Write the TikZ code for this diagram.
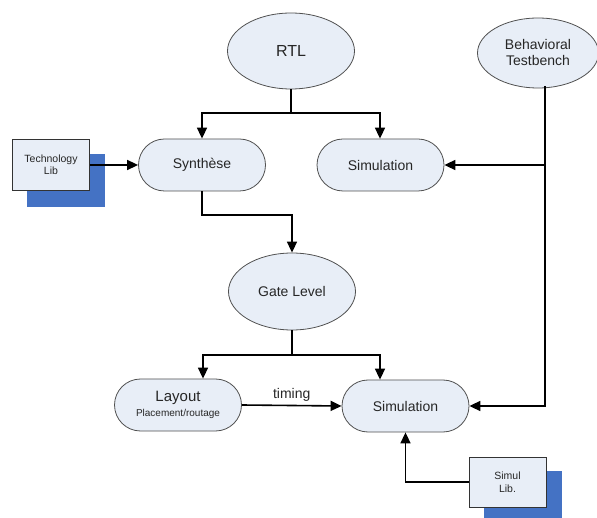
\documentclass[tikz,border=0pt]{standalone}
\usepackage{fontspec}
\setmainfont{Liberation Sans}
\usetikzlibrary{shapes.geometric,shapes.misc,arrows.meta,calc}
\definecolor{nodefill}{HTML}{E8EEF7}
\definecolor{shadowblue}{HTML}{4472C4}
\definecolor{border}{HTML}{505050}
\definecolor{txt}{HTML}{262626}
\tikzset{
  ell/.style={ellipse, draw=border, line width=0.8pt, fill=nodefill, text=txt, minimum width=127pt, minimum height=76pt, inner sep=0pt, font=\fontsize{14}{16}\selectfont, align=center},
  stad/.style={rounded rectangle, draw=border, line width=0.8pt, fill=nodefill, text=txt, minimum width=127pt, minimum height=52pt, inner sep=0pt, font=\fontsize{14}{16}\selectfont, align=center},
  libbox/.style={rectangle, draw=black!80, line width=0.9pt, fill=nodefill, text=txt, minimum width=77pt, minimum height=51pt, inner sep=0pt, font=\fontsize{10.5}{12.5}\selectfont, align=center},
  shadowbox/.style={rectangle, fill=shadowblue, minimum width=78pt, minimum height=53pt, inner sep=0pt},
  conn/.style={line width=1.6pt, black},
  arr/.style={conn, -{Triangle[width=10pt,length=11pt]}},
}
\begin{document}
\begin{tikzpicture}[x=1pt,y=-1pt]
\useasboundingbox (0,0) rectangle (597,518);
% shadows
\node[shadowbox] (techsh) at (66,181) {};
\node[shadowbox] (slibsh) at (523,497) {};
% nodes
\node[ell, font=\fontsize{16}{18}\selectfont] (rtl) at (291,51) {RTL};
\node[ell, minimum width=121pt, minimum height=70pt] (beh) at (538,53) {Behavioral\\Testbench};
\node[libbox] (tech) at (51,165) {Technology\\Lib};
\node[stad] (synth) at (202,165) {Synthèse};
\node[stad] (sim1) at (380.5,165) {Simulation};
\node[ell, minimum height=77pt] (gate) at (292,291.5) {Gate Level};
\node[stad] (layout) at (178,405) {\fontsize{15}{17}\selectfont Layout\\[-1pt]\fontsize{10}{12}\selectfont Placement/routage};
\node[stad] (sim2) at (405.5,406) {Simulation};
\node[libbox, minimum height=50pt] (slib) at (507.5,482) {Simul\\Lib.};
% junction coordinates
\coordinate (j1) at (291,113);
\coordinate (j2) at (292,215);
\coordinate (j3) at (292,355);
\coordinate (bx) at (545,86);
% connectors
\draw[conn] (rtl.south) -- (j1);
\draw[arr] (j1) -| (synth.north);
\draw[arr] (j1) -| ($(sim1.north)+(-0.5,0)$);
\draw[arr] (tech.east) -- (synth.west);
\draw[arr] (synth.south) |- (j2) -- (gate.north);
\draw[conn] (gate.south) -- (j3);
\draw[arr] (j3) -| ($(layout.north)+(25,0)$);
\draw[arr] (j3) -| ($(sim2.north)+(-25.5,0)$);
\draw[arr] (bx) |- (sim2.east);
\draw[arr] (bx |- sim1.east) -- (sim1.east);
\draw[arr] (layout.east) -- node[above=3pt, text=txt, font=\fontsize{14}{16}\selectfont, inner sep=0pt] (tlabel) {timing} (sim2.west);
\draw[arr] (slib.west) -| (sim2.south);
\end{tikzpicture}
\end{document}
